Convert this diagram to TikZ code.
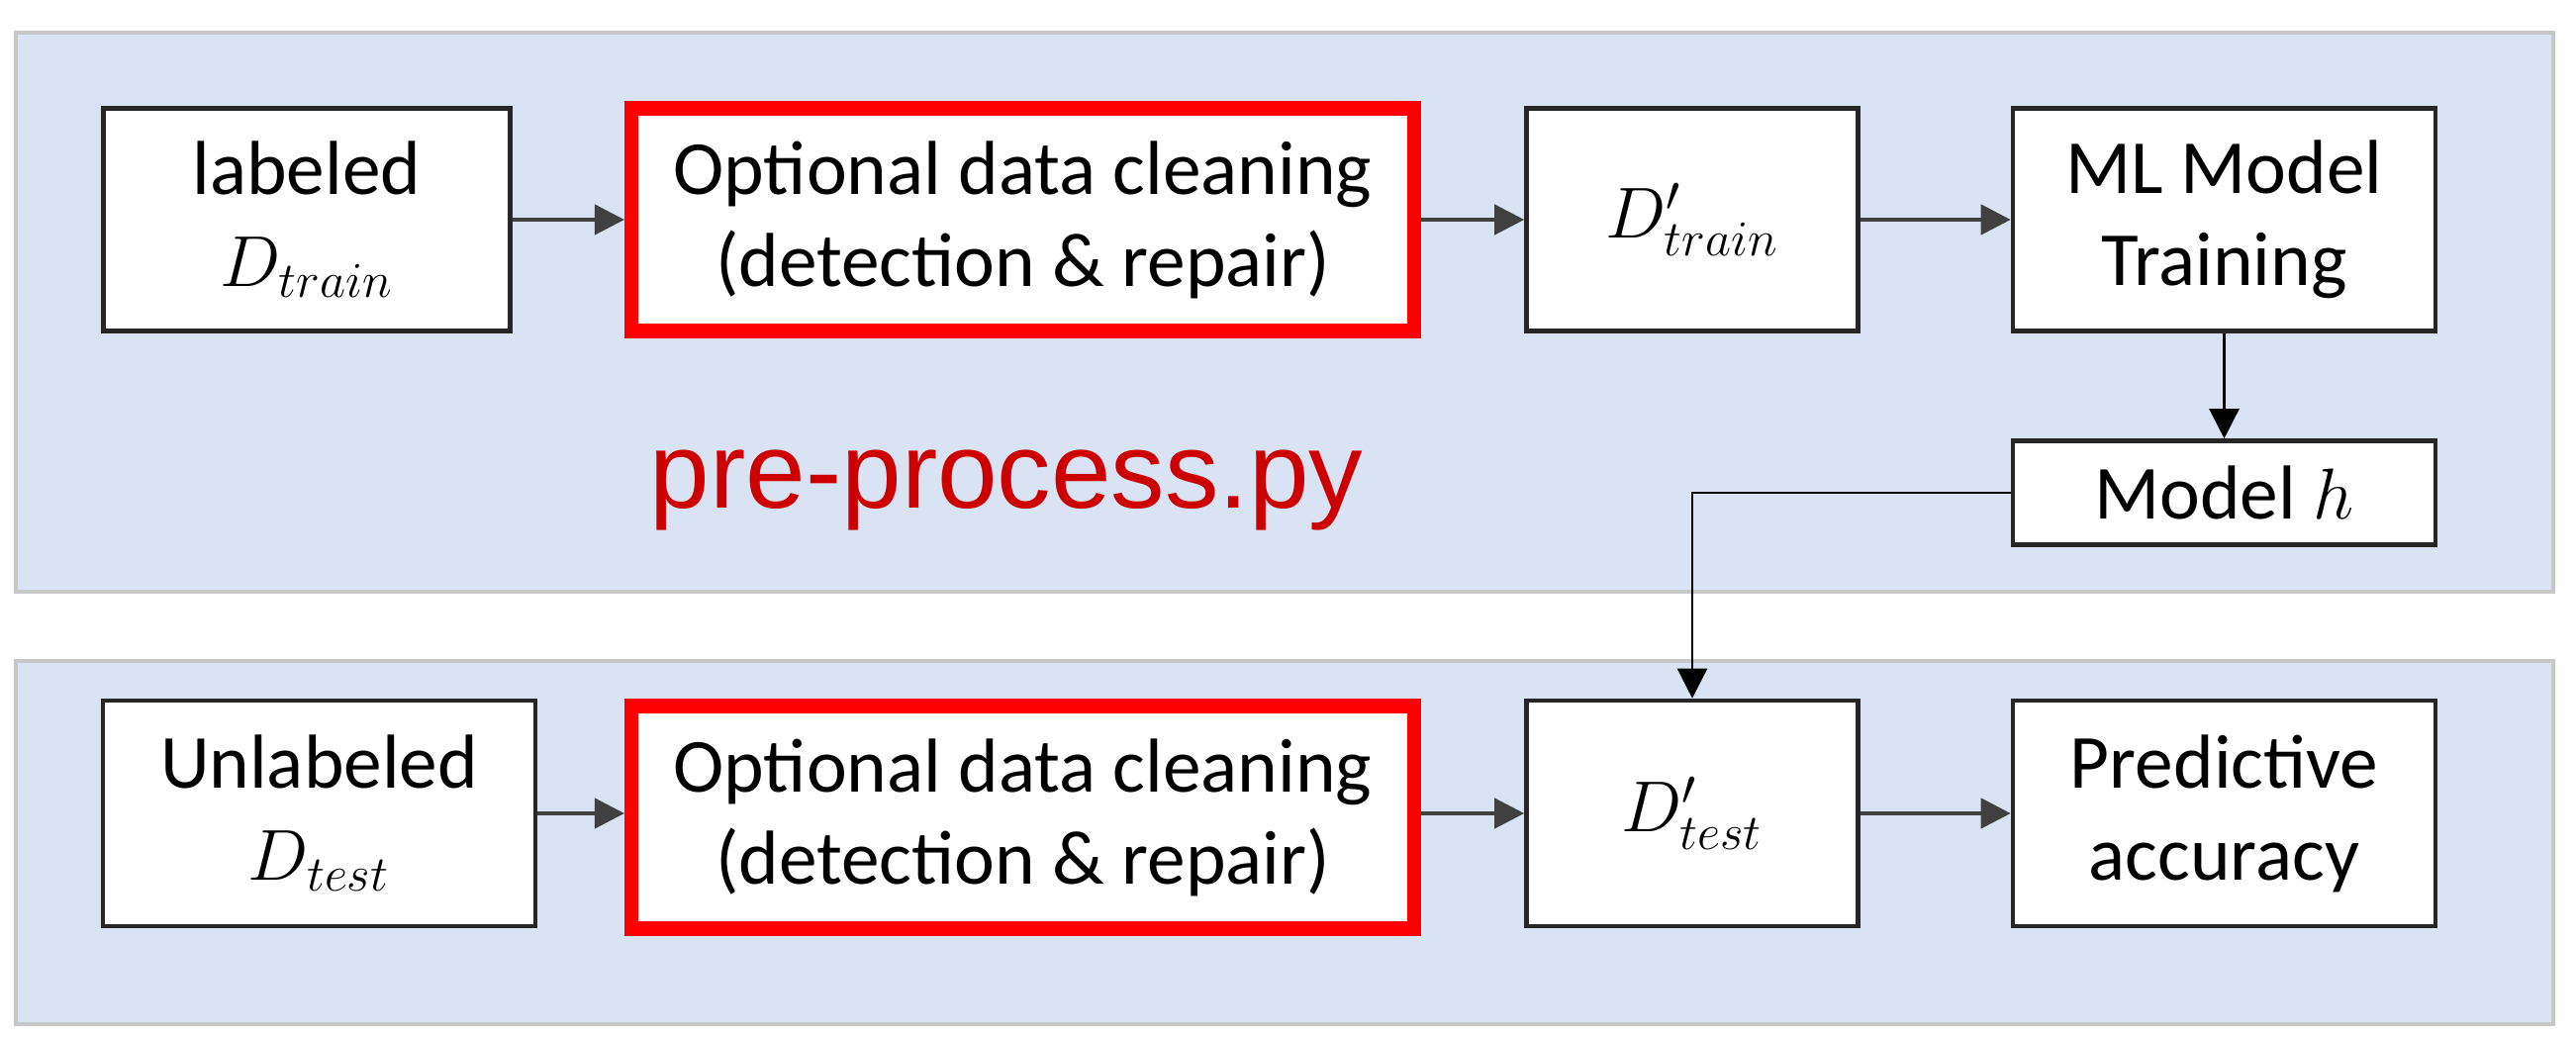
\documentclass[tikz,border=0pt]{standalone}
\usepackage{fontspec}
\setmainfont{Carlito}
\newfontfamily\arialfont{Liberation Sans}
\usetikzlibrary{arrows.meta}
\definecolor{panelblue}{RGB}{218,227,243}
\definecolor{scriptred}{RGB}{204,0,0}

\begin{document}
\begin{tikzpicture}[
  font=\fontsize{22}{26.5}\selectfont,
  >={Triangle[length=0.3cm,width=0.3cm]},
  panel/.style={draw=black!22,line width=1.3pt,fill=panelblue},
  box/.style={draw=black!85,line width=1.3pt,fill=white,align=center,inner sep=0pt,minimum height=2.25cm},
  cleanbox/.style={box,draw=red,line width=4pt,minimum width=7.91cm},
  line/.style={->,line width=1.2pt,black!75},
  drop/.style={->,line width=0.7pt,black}
]
\useasboundingbox (0,0) rectangle (26.03,10.48);

% Training and test panels.
\draw[panel] (0.16,10.15) rectangle (25.80,4.50);
\draw[panel] (0.16,3.80) rectangle (25.80,0.13);

% Training pipeline.
\node[box,minimum width=4.11cm] (labeled) at (3.10,8.26) {labeled\\$D_{train}$};
\node[cleanbox] (clean1) at (10.335,8.26) {Optional data cleaning\\(detection \& repair)};
\node[box,minimum width=3.35cm] (dtrain) at (17.10,8.26) {$D'_{train}$};
\node[box,minimum width=4.27cm] (mltrain) at (22.475,8.26) {ML Model\\Training};
\node[box,minimum width=4.27cm,minimum height=1.05cm] (modelh) at (22.475,5.50) {Model $h$};
\node[anchor=base,text=scriptred,font=\arialfont\fontsize{31}{36}\selectfont] (script) at (10.17,5.34) {pre-process.py};
\draw[line] (labeled) -- (clean1);
\draw[line] (clean1) -- (dtrain);
\draw[line] (dtrain) -- (mltrain);
\draw[drop] (mltrain) -- (modelh);

% Test pipeline.
\node[box,minimum width=4.37cm,minimum height=2.28cm] (unlabeled) at (3.225,2.26) {Unlabeled\\$D_{test}$};
\node[cleanbox] (clean2) at (10.335,2.22) {Optional data cleaning\\(detection \& repair)};
\node[box,minimum width=3.35cm,minimum height=2.28cm] (dtest) at (17.10,2.26) {$D'_{test}$};
\node[box,minimum width=4.27cm,minimum height=2.28cm] (predacc) at (22.475,2.26) {Predictive\\accuracy};
\draw[line] (unlabeled) -- (clean2.west |- unlabeled);
\draw[line] (clean2.east |- dtest) -- (dtest);
\draw[line] (dtest) -- (predacc);
\draw[drop] (modelh.west) -| (dtest.north);
\end{tikzpicture}
\end{document}
